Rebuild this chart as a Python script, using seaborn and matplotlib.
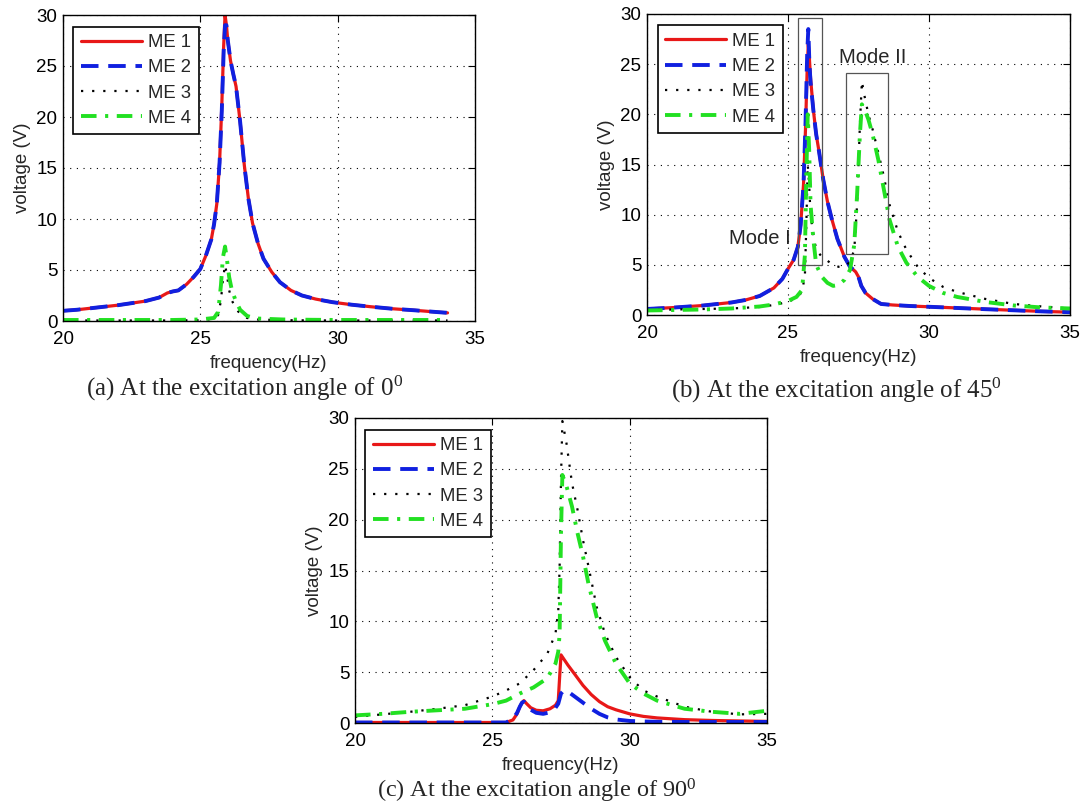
import numpy as np
import pandas as pd
import matplotlib
matplotlib.use("Agg")
import matplotlib.pyplot as plt
import seaborn as sns
from matplotlib.patches import Rectangle

# ---------------- data ----------------
series_names = ["ME 1", "ME 2", "ME 3", "ME 4"]
x_ticks = [20, 25, 30, 35]
y_ticks = [0, 5, 10, 15, 20, 25, 30]

# (a) 0 degrees
freq_a12 = [20, 20.5, 21, 21.5, 22, 22.5, 23, 23.5, 23.8, 24.0, 24.2, 24.5, 24.75, 25, 25.2, 25.4, 25.5,
            25.6, 25.7, 25.78, 25.85, 25.9, 25.95, 26.0, 26.1, 26.2, 26.3, 26.45, 26.6, 26.75, 26.9, 27.1,
            27.3, 27.6, 27.9, 28.3, 28.7, 29.2, 29.8, 30.5, 31.2, 32, 32.8, 33.5, 34]
me1_a = [1.0, 1.1, 1.25, 1.4, 1.55, 1.75, 1.95, 2.3, 2.75, 2.9, 3.0, 3.6, 4.3, 5.1, 6.4, 8.0, 9.5,
         11.5, 15.5, 21.0, 27.0, 30.0, 29.0, 27.5, 25.5, 24.2, 23.0, 19.5, 15.3, 12.0, 9.6, 7.6,
         6.1, 4.8, 3.8, 3.0, 2.5, 2.15, 1.85, 1.6, 1.4, 1.2, 1.05, 0.9, 0.8]
me2_a = [1.0, 1.1, 1.25, 1.4, 1.55, 1.75, 1.95, 2.3, 2.75, 2.9, 3.0, 3.6, 4.3, 5.1, 6.4, 8.0, 9.5,
         11.5, 15.5, 20.5, 26.5, 29.0, 29.0, 27.5, 25.5, 24.2, 23.0, 19.5, 15.3, 12.0, 9.6, 7.6,
         6.1, 4.8, 3.8, 3.0, 2.5, 2.15, 1.85, 1.6, 1.4, 1.2, 1.05, 0.9, 0.8]
freq_a34 = [20, 21, 22, 23, 24, 25, 25.5, 25.65, 25.75, 25.82, 25.9, 25.97, 26.05, 26.15, 26.3, 26.45,
            26.7, 27, 28, 29, 30, 31, 32, 33, 34]
me3_a = [0.05, 0.05, 0.05, 0.05, 0.05, 0.08, 0.2, 0.6, 2.0, 4.0, 5.5, 4.5, 3.0, 2.0, 1.2, 0.7,
         0.3, 0.15, 0.08, 0.06, 0.05, 0.05, 0.05, 0.05, 0.05]
me4_a = [0.1, 0.1, 0.1, 0.1, 0.1, 0.15, 0.3, 0.9, 3.5, 6.2, 7.3, 6.0, 4.3, 3.0, 1.9, 1.1,
         0.5, 0.25, 0.15, 0.12, 0.1, 0.1, 0.1, 0.1, 0.1]

# (b) 45 degrees
freq_b12 = [20, 21, 22, 23, 23.5, 24, 24.5, 24.8, 25, 25.2, 25.35, 25.45, 25.55, 25.62, 25.68, 25.72,
            25.76, 25.8, 25.9, 26.0, 26.1, 26.25, 26.4, 26.55, 26.75, 27.0, 27.2, 27.4, 27.5, 27.6,
            27.75, 28.0, 28.3, 28.7, 29.3, 30, 31, 32, 33, 34, 35]
me1_b = [0.6, 0.75, 0.95, 1.25, 1.5, 1.9, 2.7, 3.6, 4.6, 5.5, 6.8, 9.0, 13.0, 18.5, 24.5, 27.0,
         25.5, 23.6, 20.4, 18.0, 16.3, 13.5, 11.3, 9.6, 7.6, 5.8, 4.8, 4.3, 3.8, 2.9,
         2.2, 1.6, 1.1, 1.0, 0.9, 0.82, 0.7, 0.58, 0.47, 0.36, 0.28]
me2_b = [0.6, 0.75, 0.95, 1.25, 1.5, 1.9, 2.7, 3.6, 4.6, 5.5, 6.8, 9.0, 13.0, 19.0, 26.0, 28.5,
         25.0, 23.2, 20.4, 18.0, 16.3, 13.5, 11.3, 9.6, 7.6, 5.8, 4.8, 4.3, 3.8, 2.9,
         2.2, 1.6, 1.1, 1.0, 0.9, 0.82, 0.7, 0.58, 0.47, 0.36, 0.28]
freq_b34 = [20, 21, 22, 23, 24, 24.5, 25, 25.3, 25.5, 25.6, 25.65, 25.7, 25.75, 25.8, 25.9, 26.0,
            26.2, 26.4, 26.6, 26.8, 27.0, 27.2, 27.35, 27.45, 27.55, 27.62, 27.7, 27.85, 28.0, 28.2,
            28.4, 28.6, 28.9, 29.2, 29.6, 30, 30.5, 31, 32, 33, 34, 35]
me3_b = [0.5, 0.55, 0.6, 0.65, 0.8, 1.0, 1.3, 1.7, 2.3, 4.0, 9.0, 15.0, 13.0, 10.0, 8.0, 6.5,
         5.8, 5.4, 5.0, 4.8, 4.8, 5.3, 6.5, 11.0, 19.0, 23.3, 22.0, 20.0, 18.5, 16.2,
         13.8, 11.0, 8.3, 6.5, 4.8, 3.7, 2.8, 2.3, 1.6, 1.1, 0.85, 0.65]
me4_b = [0.45, 0.5, 0.55, 0.65, 0.85, 1.05, 1.4, 1.8, 2.5, 6.0, 14.0, 20.0, 16.5, 11.0, 7.5, 5.0,
         3.8, 3.2, 2.9, 3.0, 3.5, 4.5, 7.0, 12.0, 18.0, 21.0, 20.6, 19.5, 18.0, 15.5,
         12.5, 9.5, 6.8, 5.2, 3.8, 2.9, 2.2, 1.8, 1.3, 0.95, 0.75, 0.65]

# (c) 90 degrees
freq_c12 = [20, 21, 22, 23, 24, 25, 25.5, 25.75, 25.9, 26.0, 26.08, 26.15, 26.25, 26.4, 26.6, 26.85,
            27.1, 27.3, 27.4, 27.45, 27.5, 27.6, 27.75, 28.0, 28.3, 28.6, 28.9, 29.2, 29.5, 30,
            30.5, 31, 32, 33, 34, 35]
me1_c = [0.05, 0.05, 0.05, 0.05, 0.05, 0.05, 0.05, 0.3, 0.9, 1.6, 2.0, 2.2, 1.9, 1.5, 1.25, 1.2,
         1.4, 1.75, 2.2, 4.5, 6.7, 6.3, 5.7, 4.8, 3.7, 2.8, 2.1, 1.6, 1.3, 0.9,
         0.65, 0.5, 0.33, 0.25, 0.2, 0.16]
me2_c = [0.05, 0.05, 0.05, 0.05, 0.05, 0.05, 0.05, 0.4, 1.0, 1.6, 2.0, 2.1, 1.7, 1.3, 1.0, 0.9,
         1.05, 1.5, 1.9, 2.4, 2.9, 3.2, 3.1, 2.6, 2.0, 1.4, 0.9, 0.55, 0.35, 0.2,
         0.15, 0.12, 0.1, 0.1, 0.1, 0.1]
freq_c34 = [20, 21, 22, 23, 24, 25, 25.5, 26, 26.5, 27, 27.3, 27.4, 27.45, 27.5, 27.55, 27.7, 27.9,
            28.1, 28.3, 28.5, 28.8, 29.1, 29.5, 30, 30.5, 31, 32, 33, 34, 35]
me3_c = [0.6, 0.85, 1.1, 1.4, 1.75, 2.6, 3.2, 3.9, 5.2, 6.8, 8.8, 11.0, 15.4, 24.0, 29.7, 27.5, 23.6,
         21.0, 18.0, 15.4, 11.4, 8.8, 6.5, 4.5, 3.2, 2.6, 1.6, 1.1, 0.85, 0.9]
me4_c = [0.75, 0.9, 1.1, 1.25, 1.4, 1.85, 2.2, 2.9, 3.5, 4.4, 5.85, 7.0, 8.8, 18.7, 24.4, 23.3, 21.3,
         18.7, 16.4, 13.7, 10.4, 8.1, 5.85, 3.9, 2.9, 2.2, 1.4, 1.1, 0.9, 1.2]

captions = ["(a) At the excitation angle of $\\mathregular{0^0}$",
            "(b) At the excitation angle of $\\mathregular{45^0}$",
            "(c) At the excitation angle of $\\mathregular{90^0}$"]
mode_labels = ["Mode I", "Mode II"]

# ---------------- style ----------------
sns.set_theme(style="white")
plt.rcParams["font.family"] = ["Liberation Sans", "DejaVu Sans"]
plt.rcParams["mathtext.default"] = "regular"

styles = {
    "ME 1": dict(color="#e81818", lw=2.3, ls="-"),
    "ME 2": dict(color="#1020e0", lw=2.8, ls=(0, (4.5, 2.5))),
    "ME 3": dict(color="black", lw=1.6, ls=(0, (1, 4))),
    "ME 4": dict(color="#22e022", lw=2.8, ls=(0, (4, 2.2, 0.8, 2.2))),
}

W, H = 1084, 807
fig = plt.figure(figsize=(W / 100, H / 100), dpi=100)


def make_axes(left, top, right, bottom):
    return fig.add_axes([left / W, 1 - bottom / H, (right - left) / W, (bottom - top) / H])


def draw_panel(ax, curves, xlim):
    for name, fx, vy in curves:
        df = pd.DataFrame({"frequency": fx, "voltage": vy})
        st = styles[name]
        sns.lineplot(data=df, x="frequency", y="voltage", ax=ax, color=st["color"],
                     linewidth=st["lw"], linestyle=st["ls"], label=name, estimator=None)
    ax.set_xlim(*xlim)
    ax.set_ylim(0, 30)
    ax.set_xticks(x_ticks)
    ax.set_yticks(y_ticks)
    ax.tick_params(direction="in", top=True, right=True, length=5, width=0.8,
                   labelsize=13.5, colors="black")
    ax.tick_params(axis="x", pad=7)
    ax.tick_params(axis="y", pad=4)
    ax.grid(True, color="black", linestyle=(0, (1, 5)), linewidth=0.8)
    for s in ax.spines.values():
        s.set_color("black")
        s.set_linewidth(1.0)
    ax.set_xlabel("frequency(Hz)", fontsize=13.5, labelpad=5)
    ax.set_ylabel("voltage (V)", fontsize=13.5, labelpad=4)
    leg = ax.legend(loc="upper left", bbox_to_anchor=(0.025, 0.962), fontsize=13.3, frameon=True,
                    fancybox=False, edgecolor="black", handlelength=3.3, handletextpad=0.35,
                    labelspacing=0.45, borderpad=0.4, borderaxespad=0)
    leg.get_frame().set_linewidth(1.2)
    leg.get_frame().set_alpha(1)


ax_a = make_axes(63, 15, 475, 321)
draw_panel(ax_a, [("ME 1", freq_a12, me1_a), ("ME 2", freq_a12, me2_a),
                  ("ME 3", freq_a34, me3_a), ("ME 4", freq_a34, me4_a)], (20, 35))

ax_b = make_axes(647, 14, 1070, 315)
draw_panel(ax_b, [("ME 1", freq_b12, me1_b), ("ME 2", freq_b12, me2_b),
                  ("ME 3", freq_b34, me3_b), ("ME 4", freq_b34, me4_b)], (20, 35))
ax_b.add_patch(Rectangle((25.35, 4.95), 0.85, 24.65, fill=False, edgecolor="#555555", lw=0.9, zorder=5))
ax_b.add_patch(Rectangle((27.06, 6.1), 1.5, 18.05, fill=False, edgecolor="#555555", lw=0.9, zorder=5))
ax_b.text(25.1, 7.6, mode_labels[0], ha="right", va="center", fontsize=14.5)
ax_b.text(26.8, 25.7, mode_labels[1], ha="left", va="center", fontsize=14.5)

ax_c = make_axes(355, 418, 767, 723)
draw_panel(ax_c, [("ME 1", freq_c12, me1_c), ("ME 2", freq_c12, me2_c),
                   ("ME 3", freq_c34, me3_c), ("ME 4", freq_c34, me4_c)], (20, 35))

serif = ["Liberation Serif", "DejaVu Serif"]
fig.text(245 / W, 1 - 388 / H, captions[0], ha="center", va="center", fontsize=18, family=serif)
fig.text(836 / W, 1 - 390 / H, captions[1], ha="center", va="center", fontsize=18, family=serif)
fig.text(537 / W, 1 - 791 / H, captions[2], ha="center", va="center", fontsize=17.5, family=serif)

fig.savefig("out.png", dpi=100, facecolor="white")
